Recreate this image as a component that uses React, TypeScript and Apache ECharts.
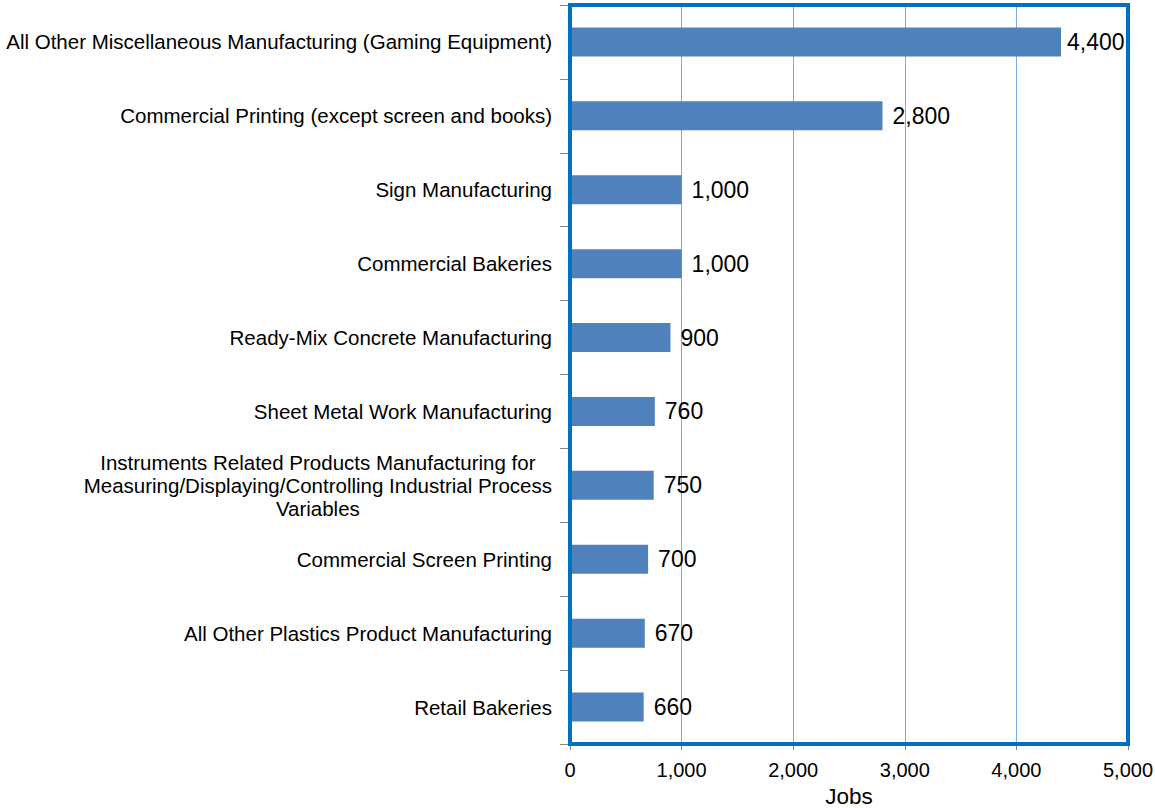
import React, { useEffect, useRef } from "react";
import * as echarts from "echarts";

const categories: string[] = [
  "All Other Miscellaneous Manufacturing (Gaming Equipment)",
  "Commercial Printing (except screen and books)",
  "Sign Manufacturing",
  "Commercial Bakeries",
  "Ready-Mix Concrete Manufacturing",
  "Sheet Metal Work Manufacturing",
  "Instruments Related Products Manufacturing for\nMeasuring/Displaying/Controlling Industrial Process\nVariables",
  "Commercial Screen Printing",
  "All Other Plastics Product Manufacturing",
  "Retail Bakeries",
];

const jobs: number[] = [4400, 2800, 1000, 1000, 900, 760, 750, 700, 670, 660];

const xTicks: number[] = [0, 1000, 2000, 3000, 4000, 5000];

const FONT = "'Liberation Sans', Arial, sans-serif";

const fmt = (v: number) => v.toLocaleString("en-US");

const GRID = { left: 570, top: 5, right: 27, bottom: 64 };
const W = 1155;
const H = 808;

export default function App() {
  const ref = useRef<HTMLDivElement>(null);

  useEffect(() => {
    if (!ref.current) return;
    const chart = echarts.init(ref.current, undefined, { renderer: "svg" });
    const barData = jobs.map((v, i) =>
      i === 0 ? { value: v, label: { distance: 6 } } : { value: v }
    );
    chart.setOption({
      animation: false,
      backgroundColor: "#ffffff",
      textStyle: { fontFamily: FONT },
      grid: {
        left: GRID.left,
        right: GRID.right,
        top: GRID.top,
        bottom: GRID.bottom,
        containLabel: false,
        outerBoundsMode: "none",
        show: false,
      },
      graphic: [
        {
          type: "rect",
          z: 100,
          silent: true,
          shape: {
            x: GRID.left,
            y: GRID.top,
            width: W - GRID.left - GRID.right,
            height: H - GRID.top - GRID.bottom,
          },
          style: { fill: "none", stroke: "#0070c0", lineWidth: 4 },
        },
      ],
      xAxis: {
        type: "value",
        min: xTicks[0],
        max: xTicks[xTicks.length - 1],
        interval: 1000,
        name: "Jobs",
        nameLocation: "middle",
        nameGap: 37,
        nameTextStyle: {
          fontFamily: FONT,
          fontSize: 22.5,
          lineHeight: 23,
          color: "#000",
        },
        axisLine: { show: false },
        axisTick: { show: true, length: 6, lineStyle: { color: "#868686" } },
        axisLabel: {
          fontFamily: FONT,
          fontSize: 20,
          color: "#000",
          margin: 16,
          formatter: (v: number) => fmt(v),
        },
        splitLine: { show: true, lineStyle: { color: "#7aaee0", width: 1 } },
      },
      yAxis: {
        type: "category",
        data: categories,
        inverse: true,
        axisLine: { show: false },
        axisTick: { show: true, length: 10, lineStyle: { color: "#868686" } },
        axisLabel: {
          fontFamily: FONT,
          fontSize: 20.5,
          color: "#000",
          margin: 18,
          lineHeight: 23,
          formatter: (v: string) =>
            v
              .split("\n")
              .map((l) => `{c|${l}}`)
              .join("\n"),
          rich: {
            c: {
              align: "center",
              fontFamily: FONT,
              fontSize: 20.5,
              color: "#000",
              lineHeight: 23,
            },
          },
        },
        splitLine: { show: false },
      },
      series: [
        {
          type: "bar",
          data: barData,
          barWidth: 29,
          itemStyle: { color: "#4f81bd" },
          label: {
            show: true,
            position: "right",
            distance: 10,
            fontFamily: FONT,
            fontSize: 23,
            color: "#000",
            formatter: (p: any) => fmt(p.value),
          },
        },
      ],
    });
    return () => chart.dispose();
  }, []);

  return (
    <div
      ref={ref}
      style={{ position: "fixed", left: 0, top: 0, width: W, height: H }}
    />
  );
}
